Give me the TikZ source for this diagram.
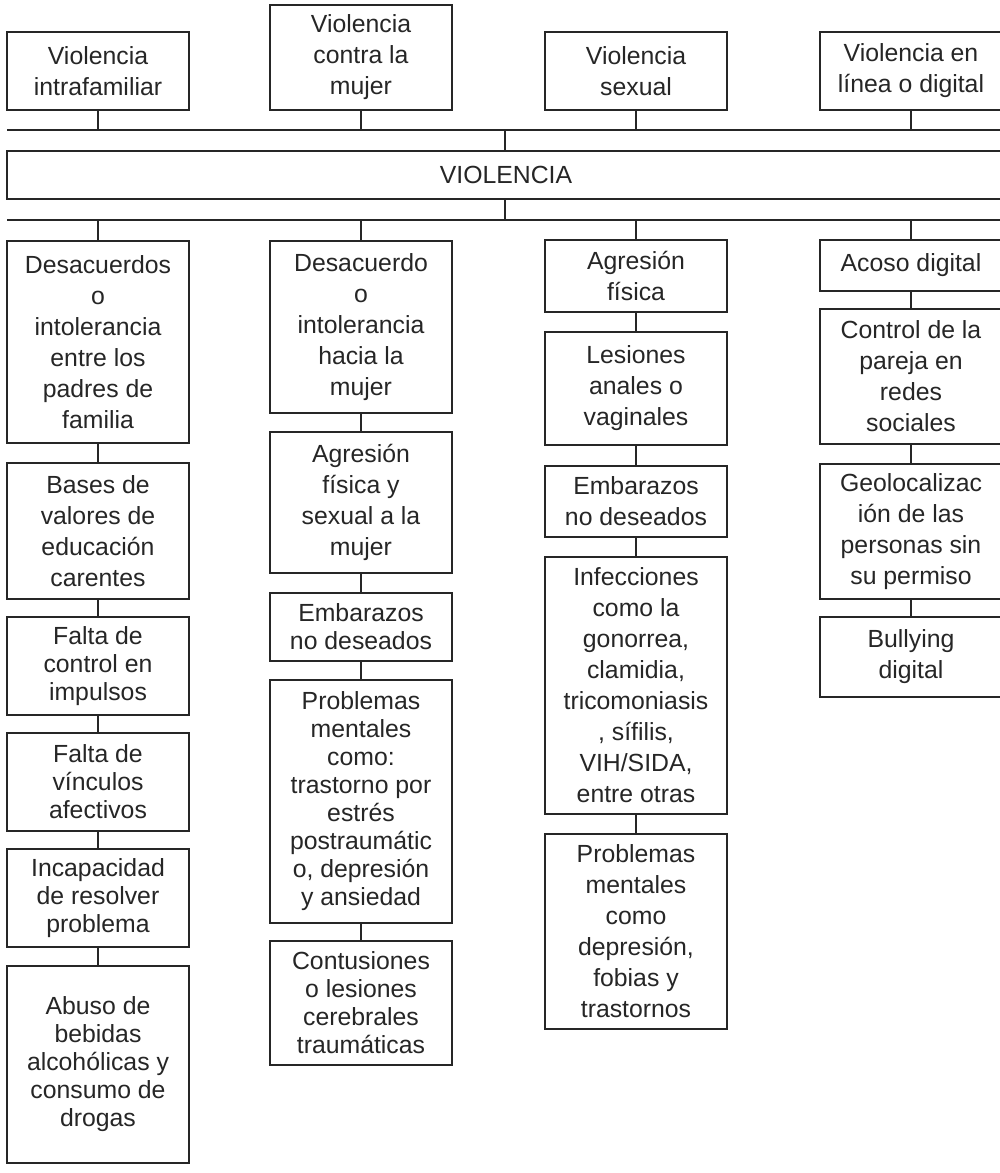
\documentclass[tikz,border=0pt]{standalone}
\usepackage{fontspec}
\setmainfont{Liberation Sans}
\definecolor{ink}{HTML}{262626}
\begin{document}
\begin{tikzpicture}[x=1pt,y=-1pt,
  line width=1.6pt, draw=ink,
  box/.style={draw=ink, line width=1.6pt, fill=white, minimum width=182pt, inner sep=0pt,
    align=center, text=ink, font=\fontsize{24.8}{31}\selectfont},
  tight/.style={font=\fontsize{24.8}{28}\selectfont},
  conn/.style={draw=ink, line width=1.6pt}]
\useasboundingbox (0,0) rectangle (1000,1173);
% top row
\node[box, minimum height=78pt]  (t1) at (98,71)   {Violencia\\intrafamiliar};
\node[box, minimum height=105pt] (t2) at (361,57.5) {Violencia\\contra la\\mujer};
\node[box, minimum height=78pt]  (t3) at (636,71)  {Violencia\\sexual};
\node[box, minimum height=78pt]  (t4) at (911,71)  {Violencia en\\línea o digital};
% bars and central box
\coordinate (topL) at (7,130);
\coordinate (topR) at (1000,130);
\coordinate (botL) at (7,220);
\coordinate (botR) at (1000,220);
\coordinate (tick) at (505,130);
\node[box, minimum width=998pt, minimum height=48pt] (V) at (506,175) {VIOLENCIA};
\draw[conn] (topL) -- (topR);
\draw[conn] (botL) -- (botR);
\draw[conn] (tick) -- (tick |- V.north);
\draw[conn] (V.south -| tick) -- (tick |- botL);
\foreach \n in {t1,t2,t3,t4} {\draw[conn] (\n.south) -- (\n.south |- topL);}
% column 1
\node[box, minimum height=202pt] (a1) at (98,342)  {Desacuerdos\\o\\intolerancia\\entre los\\padres de\\familia};
\node[box, minimum height=136pt] (a2) at (98,531)  {Bases de\\valores de\\educación\\carentes};
\node[box, tight, minimum height=98pt]  (a3) at (98,666)  {Falta de\\control en\\impulsos};
\node[box, tight, minimum height=98pt]  (a4) at (98,782)  {Falta de\\vínculos\\afectivos};
\node[box, tight, minimum height=98pt]  (a5) at (98,898)  {Incapacidad\\de resolver\\problema};
\node[box, tight, minimum height=197pt] (a6) at (98,1064.5) {Abuso de\\bebidas\\alcohólicas y\\consumo de\\drogas};
% column 2
\node[box, minimum height=172pt] (b1) at (361,327)   {Desacuerdo\\o\\intolerancia\\hacia la\\mujer};
\node[box, minimum height=141pt] (b2) at (361,502.5) {Agresión\\física y\\sexual a la\\mujer};
\node[box, tight, minimum height=68pt]  (b3) at (361,627)   {Embarazos\\no deseados};
\node[box, tight, minimum height=243pt] (b4) at (361,801.5) {Problemas\\mentales\\como:\\trastorno por\\estrés\\postraumátic\\o, depresión\\y ansiedad};
\node[box, tight, minimum height=124pt] (b5) at (361,1003)  {Contusiones\\o lesiones\\cerebrales\\traumáticas};
% column 3
\node[box, minimum height=72pt]  (c1) at (636,276)   {Agresión\\física};
\node[box, minimum height=113pt] (c2) at (636,388.5) {Lesiones\\anales o\\vaginales};
\node[box, minimum height=71pt]  (c3) at (636,501.5) {Embarazos\\no deseados};
\node[box, minimum height=257pt] (c4) at (636,685.5) {Infecciones\\como la\\gonorrea,\\clamidia,\\tricomoniasis\\, sífilis,\\VIH/SIDA,\\entre otras};
\node[box, minimum height=195pt] (c5) at (636,931.5) {Problemas\\mentales\\como\\depresión,\\fobias y\\trastornos};
% column 4
\node[box, minimum height=51pt]  (d1) at (911,265.5) {Acoso digital};
\node[box, minimum height=135pt] (d2) at (911,376.5) {Control de la\\pareja en\\redes\\sociales};
\node[box, minimum height=135pt] (d3) at (911,531.5) {Geolocalizac\\ión de las\\personas sin\\su permiso};
\node[box, minimum height=80pt]  (d4) at (911,657)   {Bullying\\digital};
% drops from lower bar
\foreach \n in {a1,b1,c1,d1} {\draw[conn] (\n.north) -- (\n.north |- botL);}
% chains
\draw[conn] (a1) -- (a2);
\draw[conn] (a2) -- (a3);
\draw[conn] (a3) -- (a4);
\draw[conn] (a4) -- (a5);
\draw[conn] (a5) -- (a6);
\draw[conn] (b1) -- (b2);
\draw[conn] (b2) -- (b3);
\draw[conn] (b3) -- (b4);
\draw[conn] (b4) -- (b5);
\draw[conn] (c1) -- (c2);
\draw[conn] (c2) -- (c3);
\draw[conn] (c3) -- (c4);
\draw[conn] (c4) -- (c5);
\draw[conn] (d1) -- (d2);
\draw[conn] (d2) -- (d3);
\draw[conn] (d3) -- (d4);
\end{tikzpicture}
\end{document}
